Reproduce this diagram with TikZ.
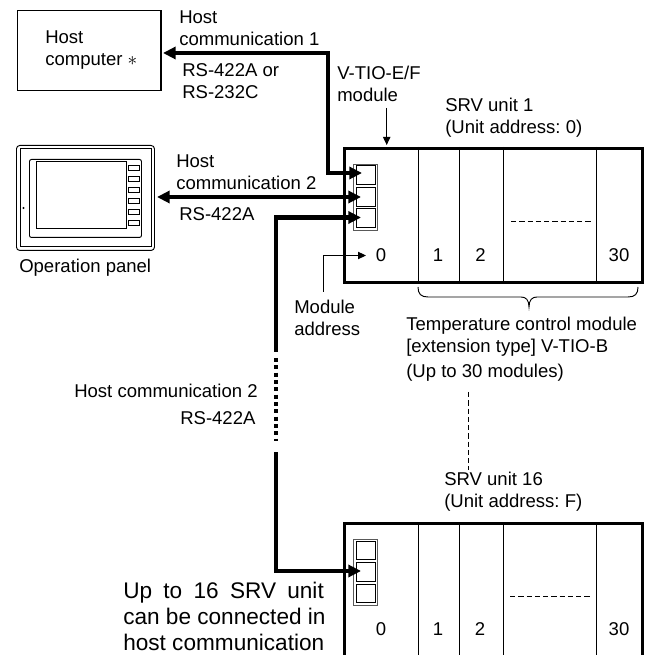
\documentclass[tikz,border=0pt]{standalone}
\usepackage{fontspec}
\setmainfont{Liberation Sans}
\frenchspacing
\usetikzlibrary{arrows.meta}
\definecolor{portgray}{gray}{0.35}
\tikzset{
  x=0.75pt,y=-0.75pt,
  label/.style={inner sep=0pt,anchor=north west,align=left,font=\fontsize{13.9pt}{16.5pt}\selectfont},
  big/.style={label,font=\fontsize{16.95pt}{19.5pt}\selectfont},
  num/.style={inner sep=0pt,font=\fontsize{13.9pt}{16pt}\selectfont},
  unitbox/.style={draw,line width=1.9pt,inner sep=0pt,minimum width=223.5pt,anchor=north west},
  sep/.style={line width=0.7pt},
  dashy/.style={line width=0.75pt,dash pattern=on 4pt off 2.2pt},
  host/.style={line width=3.2pt},
  hostboth/.style={{Triangle[length=9.5pt,width=9pt]}-{Triangle[length=9.5pt,width=9pt]}},
  hostend/.style={-{Triangle[length=9.5pt,width=9pt]}},
  thin tip/.style={-{Triangle[length=6pt,width=5.5pt]},line width=0.7pt},
  cell/.style={draw=black,line width=0.6pt,inner sep=0pt,minimum width=14.5pt,minimum height=14pt,anchor=north west},
  portframe/.style={draw=portgray,line width=0.7pt,inner sep=0pt,minimum width=18pt,minimum height=49.5pt,anchor=north west},
  panelline/.style={draw,line width=0.7pt,inner sep=0pt,anchor=north west},
}
\begin{document}
\begin{tikzpicture}
\useasboundingbox (0,0) rectangle (656,655);
% host computer
\node[draw,line width=0.9pt,inner sep=0pt,minimum width=107.5pt,minimum height=60pt,anchor=north west] (hostpc) at (17,10) {};
\node[label] (hostlbl) at (45,30) {Host\\computer $\ast$};
% operation panel
\node[panelline,rounded corners=2.5pt,minimum width=103.5pt,minimum height=78.75pt] (panel) at (16,145) {};
\node[panelline,minimum width=98pt,minimum height=73.5pt] (panelb) at (20,148) {};
\node[panelline,rounded corners=1.5pt,minimum width=84pt,minimum height=58.5pt] (panelc) at (29,159) {};
\node[panelline,minimum width=67.5pt,minimum height=50.5pt] (screen) at (36,161) {};
\foreach \i/\y in {1/165,2/176,3/187,4/198,5/209,6/220}
  \node[panelline,minimum width=8.5pt,minimum height=3.4pt] (btn\i) at (127.5,\y) {};
\fill (23.5,208) circle (0.9pt);
\node[label] (oplbl) at (19,259) {Operation panel};
% unit 1
\node[unitbox,minimum height=100.5pt] (u1) at (343,147) {};
\foreach \x in {418,459,503,596} \draw[sep] (\x,147) -- (\x,281);
\draw[dashy] (511,222) -- (591,222);
\node[portframe] (p1) at (353,164) {};
\node[cell] (c1) at (355.5,165.5) {};
\node[cell] (c2) at (355.5,187) {};
\node[cell] (c3) at (355.5,208.5) {};
\foreach \x/\t in {381/0,438/1,480.5/2,619/30} \node[num] at (\x,255) {\t};
% unit 16
\node[unitbox,minimum height=100.5pt] (u2) at (343,522) {};
\foreach \x in {418,459,503,596} \draw[sep] (\x,522) -- (\x,656);
\draw[dashy] (510,596) -- (590,596);
\node[portframe] (q1) at (353,539) {};
\node[cell] (d1) at (355.5,540.5) {};
\node[cell] (d2) at (355.5,562) {};
\node[cell] (d3) at (355.5,583.5) {};
\foreach \x/\t in {381/0,438/1,480/2,619/30} \node[num] at (\x,629.5) {\t};
% connectors
\coordinate (hostpt) at (163,53);
\coordinate (t1) at (362,173);
\draw[host,hostboth,line join=miter] (t1) -- (328,173) -- (328,53) -- (hostpt);
\draw[host,hostboth] (157,197) -- (361,197);
\draw[host,{Triangle[length=9.5pt,width=9pt]}-] (361,217.5) -- (276,217.5) -- (276,352);
\draw[host,dash pattern=on 3pt off 2.5pt] (276,358) -- (276,441);
\draw[host,hostend] (276,452) -- (276,571) -- (361,571);
% thin arrows and brace
\coordinate (vtop) at (386.7,108);
\coordinate (vend) at (386.7,145);
\draw[thin tip] (vtop) -- (vend);
\coordinate (mtop) at (323,292);
\coordinate (mend) at (366,255.5);
\draw[thin tip] (mtop) -- (323,255.5) -- (mend);
\draw[line width=0.7pt] (418,287) .. controls (418,294) and (421,297) .. (428,297) -- (521,297) .. controls (526,297) and (529,300) .. (529,307) .. controls (529,300) and (532,297) .. (537,297) -- (628,297) .. controls (635,297) and (638,294) .. (638,287);
\draw[dashy] (468,392) -- (468,470);
% labels
\node[label] (hc1) at (179,10) {Host\\communication 1};
\node[label] (rs1) at (182,63) {RS-422A or\\RS-232C};
\node[label] (tio) at (337,66) {V-TIO-E/F\\module};
\node[label] (srv1) at (445,98) {SRV unit 1\\(Unit address: 0)};
\node[label] (hc2) at (176,154) {Host\\communication 2};
\node[label] (rs2) at (179,207) {RS-422A};
\node[label] (madr) at (294,300) {Module\\address};
\node[label] (tcm) at (406,317) {Temperature control module\\{[}extension type] V-TIO-B};
\node[label] (up30) at (406,364) {(Up to 30 modules)};
\node[label] (hc3) at (74,384) {Host communication 2};
\node[label] (rs3) at (180,411) {RS-422A};
\node[label] (srv16) at (444,472) {SRV unit 16\\(Unit address: F)};
\node[big] (up16) at (123,582) {Up\hspace{0.5em}to\hspace{0.5em}16\hspace{0.5em}SRV\hspace{0.5em}unit\\can be connected in\\host communication};
\end{tikzpicture}
\end{document}
